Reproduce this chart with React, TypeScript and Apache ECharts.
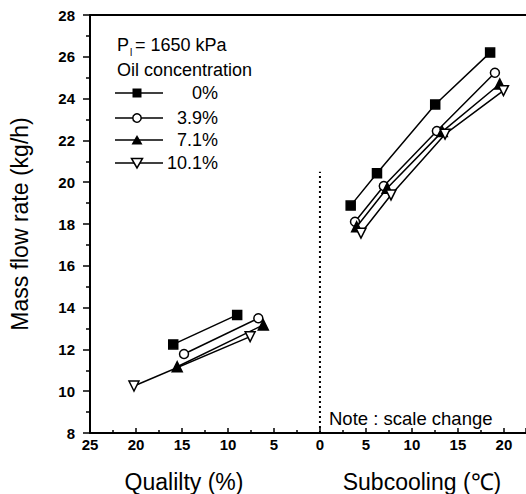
import React, { useEffect, useRef } from "react";
import * as echarts from "echarts";

// Quality side plotted at x = -quality
const quality0 = [[-15.95, 12.24], [-9.0, 13.65]];
const quality39 = [[-14.78, 11.78], [-6.7, 13.49]];
const quality71 = [[-15.52, 11.17], [-6.16, 13.17]];
const quality101 = [[-20.22, 10.25], [-7.59, 12.61]];

const sub0 = [[3.34, 18.88], [6.2, 20.43], [12.53, 23.72], [18.5, 26.2]];
const sub39 = [[3.81, 18.11], [6.94, 19.82], [12.71, 22.45], [19.02, 25.24]];
const sub71 = [[3.99, 17.87], [7.3, 19.71], [13.3, 22.42], [19.55, 24.7]];
const sub101 = [[4.46, 17.56], [7.72, 19.39], [13.6, 22.3], [19.95, 24.38]];

const legendLabels = ["0%", "3.9%", "7.1%", "10.1%"];
const dividerLine = [[0, 8], [0, 20.5]];

const FONT = "'Liberation Sans', Arial, Helvetica, sans-serif";

const markers = [
  { symbol: "rect", rotate: 0, fill: "#000", size: 9 },
  { symbol: "circle", rotate: 0, fill: "#fff", size: 9 },
  { symbol: "triangle", rotate: 0, fill: "#000", size: 10 },
  { symbol: "triangle", rotate: 180, fill: "#fff", size: 10 },
];

function lineSeries(data: number[][], idx: number) {
  const m = markers[idx];
  return {
    type: "line",
    data,
    symbol: m.symbol,
    symbolSize: m.size,
    symbolRotate: m.rotate,
    lineStyle: { color: "#000", width: 1.5 },
    itemStyle: { color: m.fill, borderColor: "#000", borderWidth: 1.5 },
    z: 3 + idx,
  };
}

export default function App() {
  const ref = useRef<HTMLDivElement>(null);
  useEffect(() => {
    if (!ref.current) return;
    const chart = echarts.init(ref.current, undefined, { renderer: "svg" });

    const legendEls: any[] = [];
    const rowY = [93, 118, 140, 163];
    legendLabels.forEach((lab, i) => {
      const y = rowY[i];
      legendEls.push({
        type: "line",
        shape: { x1: 115, y1: y, x2: 163, y2: y },
        style: { stroke: "#000", lineWidth: 1.5 },
      });
      const cx = 137;
      if (i === 0) {
        legendEls.push({ type: "rect", shape: { x: cx - 4.5, y: y - 4.5, width: 9, height: 9 }, style: { fill: "#000" } });
      } else if (i === 1) {
        legendEls.push({ type: "circle", shape: { cx, cy: y, r: 4.2 }, style: { fill: "#fff", stroke: "#000", lineWidth: 1.5 } });
      } else if (i === 2) {
        legendEls.push({ type: "polygon", shape: { points: [[cx, y - 5], [cx + 5.5, y + 4.5], [cx - 5.5, y + 4.5]] }, style: { fill: "#000" } });
      } else {
        legendEls.push({ type: "polygon", shape: { points: [[cx - 5.5, y - 4.5], [cx + 5.5, y - 4.5], [cx, y + 5]] }, style: { fill: "#fff", stroke: "#000", lineWidth: 1.5 } });
      }
      legendEls.push({
        type: "text",
        x: 218,
        y,
        style: { text: lab, fill: "#000", font: `18px ${FONT}`, align: "right", verticalAlign: "middle" },
      });
    });

    chart.setOption({
      animation: false,
      backgroundColor: "#fff",
      grid: { left: 82, right: 0, top: 15, bottom: 61, containLabel: false },
      xAxis: [
        {
          type: "value",
          min: -25,
          max: 22.4,
          interval: 5,
          position: "bottom",
          axisLine: { show: true, onZero: false, lineStyle: { color: "#000", width: 2 } },
          axisTick: { show: true, inside: true, length: 5, lineStyle: { color: "#000", width: 1.5 } },
          minorTick: { show: true, splitNumber: 2, length: 3, lineStyle: { color: "#000", width: 1.5 } },
          splitLine: { show: false },
          axisLabel: {
            margin: 4,
            showMaxLabel: false,
            color: "#000",
            fontFamily: FONT,
            fontSize: 15,
            fontWeight: "bold",
            formatter: (v: number) => (Math.abs(v % 5) < 1e-6 ? String(Math.abs(v)) : ""),
          },
        },
        {
          type: "value",
          min: -25,
          max: 22.4,
          position: "top",
          axisLine: { show: true, onZero: false, lineStyle: { color: "#000", width: 2 } },
          axisTick: { show: false },
          axisLabel: { show: false },
          splitLine: { show: false },
        },
      ],
      yAxis: {
        type: "value",
        min: 8,
        max: 28,
        interval: 2,
        axisLine: { show: true, onZero: false, lineStyle: { color: "#000", width: 2 } },
        axisTick: { show: true, inside: false, length: 7, lineStyle: { color: "#000", width: 1.5 } },
        minorTick: { show: true, splitNumber: 2, length: 4, lineStyle: { color: "#000", width: 1.5 } },
        splitLine: { show: false },
        axisLabel: { margin: 15, color: "#000", fontFamily: FONT, fontSize: 15, fontWeight: "bold" },
        name: "Mass flow rate (kg/h)",
        nameLocation: "middle",
        nameGap: 59,
        nameTextStyle: { color: "#000", fontFamily: FONT, fontSize: 23 },
      },
      series: [
        {
          type: "line",
          data: dividerLine,
          symbol: "none",
          lineStyle: { color: "#000", width: 2, type: [2, 3] },
          z: 1,
        },
        lineSeries(quality0, 0),
        lineSeries(quality39, 1),
        lineSeries(quality71, 2),
        lineSeries(quality101, 3),
        lineSeries(sub0, 0),
        lineSeries(sub39, 1),
        lineSeries(sub71, 2),
        lineSeries(sub101, 3),
      ],
      graphic: [
        { type: "text", x: 117, y: 45, style: { text: "P", fill: "#000", font: `18px ${FONT}`, verticalAlign: "middle" } },
        { type: "text", x: 130, y: 52, style: { text: "l", fill: "#000", font: `10px ${FONT}`, verticalAlign: "middle" } },
        { type: "text", x: 135, y: 45, style: { text: "= 1650 kPa", fill: "#000", font: `18px ${FONT}`, verticalAlign: "middle" } },
        { type: "text", x: 117, y: 70, style: { text: "Oil concentration", fill: "#000", font: `18px ${FONT}`, verticalAlign: "middle" } },
        ...legendEls,
        { type: "text", x: 329, y: 418, style: { text: "Note : scale change", fill: "#000", font: `18.5px ${FONT}`, verticalAlign: "middle" } },
        { type: "text", x: 184, y: 482, style: { text: "Qualilty (%)", fill: "#000", font: `23px ${FONT}`, align: "center", verticalAlign: "middle" } },
        { type: "text", x: 422, y: 482, style: { text: "Subcooling (\u2103)", fill: "#000", font: `23px ${FONT}`, align: "center", verticalAlign: "middle" } },
      ],
    });
    return () => chart.dispose();
  }, []);
  return <div ref={ref} style={{ position: "absolute", left: 0, top: 0, width: 526, height: 494 }} />;
}
